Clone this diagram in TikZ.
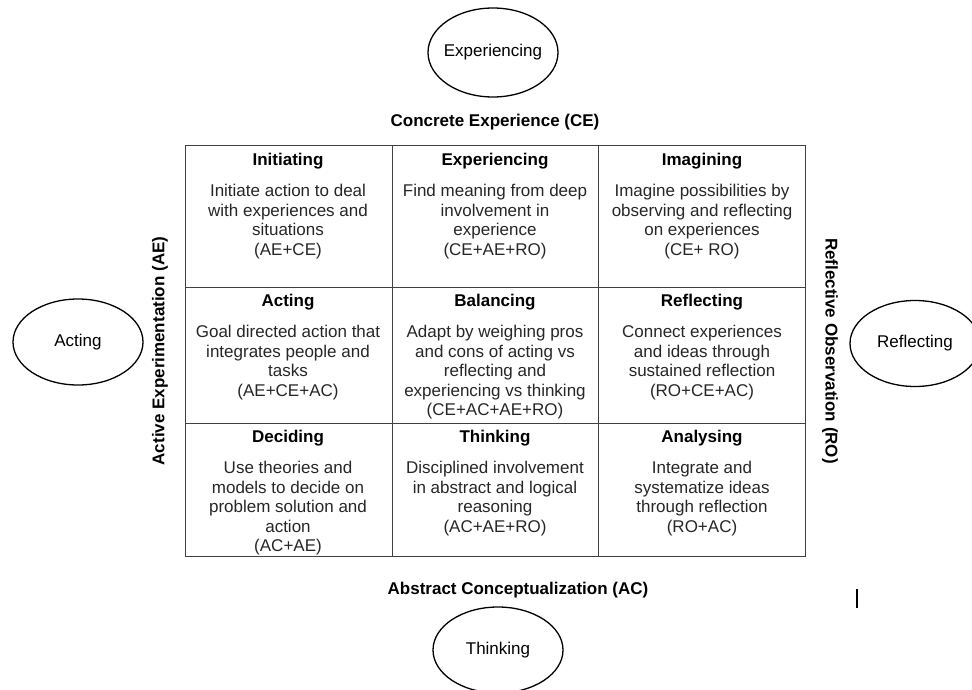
\documentclass[tikz,border=0pt]{standalone}
\usepackage{fontspec}
\setmainfont{Liberation Sans}
\usetikzlibrary{shapes.geometric}
\tikzset{
  mode/.style={draw, line width=1.3pt, ellipse, minimum width=130pt, minimum height=86pt, inner xsep=-8pt, inner ysep=0pt, font=\fontsize{17}{19.5}\selectfont},
  axis/.style={font=\bfseries\fontsize{17}{19.5}\selectfont},
  head/.style={anchor=base, inner sep=0pt, font=\bfseries\fontsize{17}{19.5}\selectfont},
  body/.style={anchor=north, align=center, inner sep=0pt, text=black!85, font=\fontsize{17}{19.5}\selectfont},
  gridline/.style={draw=black!75, line width=1pt}
}
\begin{document}
\begin{tikzpicture}[x=1pt,y=-1pt]
		\useasboundingbox (0,0) rectangle (972,690);

		% Modes round the grid
		\node[mode, minimum height=89pt] (experiencing) at (493,52.5) {Experiencing};
		\node[mode] (acting) at (78,342) {Acting};
		\node[mode] (reflecting) at (915,343.5) {Reflecting};
		\node[mode] (thinking) at (498,650) {Thinking};

		% Axis labels
		\node[axis, anchor=base] (ce) at (495,127) {Concrete Experience (CE)};
		\node[axis, anchor=base] (ac) at (518,594) {Abstract Conceptualization (AC)};
		\node[axis, rotate=90] (ae) at (160,351) {Active Experimentation (AE)};
		\node[axis, rotate=-90] (ro) at (830,351) {Reflective Observation (RO)};

		% Grid
		\draw[gridline] (185,146) rectangle (805,556);
		\draw[gridline] (392,146) -- (392,556);
		\draw[gridline] (598,146) -- (598,556);
		\draw[gridline] (185,287) -- (805,287);
		\draw[gridline] (185,423) -- (805,423);

		% Top row
		\node[head] (initiating) at (288,165) {Initiating};
		\node[body] (initiatingtext) at (288,184) {Initiate action to deal\\with experiences and\\situations\\(AE+CE)};
		\node[head] (experiencinghead) at (495,165) {Experiencing};
		\node[body] (experiencingtext) at (495,184) {Find meaning from deep\\involvement in\\experience\\(CE+AE+RO)};
		\node[head] (imagining) at (702,165) {Imagining};
		\node[body] (imaginingtext) at (702,184) {Imagine possibilities by\\observing and reflecting\\on experiences\\(CE+ RO)};

		% Middle row
		\node[head] (actinghead) at (288,306) {Acting};
		\node[body] (actingtext) at (288,325) {Goal directed action that\\integrates people and\\tasks\\(AE+CE+AC)};
		\node[head] (balancing) at (495,306) {Balancing};
		\node[body] (balancingtext) at (495,325) {Adapt by weighing pros\\and cons of acting vs\\reflecting and\\experiencing vs thinking\\(CE+AC+AE+RO)};
		\node[head] (reflectinghead) at (702,306) {Reflecting};
		\node[body] (reflectingtext) at (702,325) {Connect experiences\\and ideas through\\sustained reflection\\(RO+CE+AC)};

		% Bottom row
		\node[head] (deciding) at (288,442) {Deciding};
		\node[body] (decidingtext) at (288,461) {Use theories and\\models to decide on\\problem solution and\\action\\(AC+AE)};
		\node[head] (thinkinghead) at (495,442) {Thinking};
		\node[body] (thinkingtext) at (495,461) {Disciplined involvement\\in abstract and logical\\reasoning\\(AC+AE+RO)};
		\node[head] (analysing) at (702,442) {Analysing};
		\node[body] (analysingtext) at (702,461) {Integrate and\\systematize ideas\\through reflection\\(RO+AC)};

		% Stray mark
		\coordinate (marktop) at (857,589);
		\coordinate (markbottom) at (857,608);
		\draw[line width=1.2pt] (marktop) -- (markbottom);
	\end{tikzpicture}
\end{document}
